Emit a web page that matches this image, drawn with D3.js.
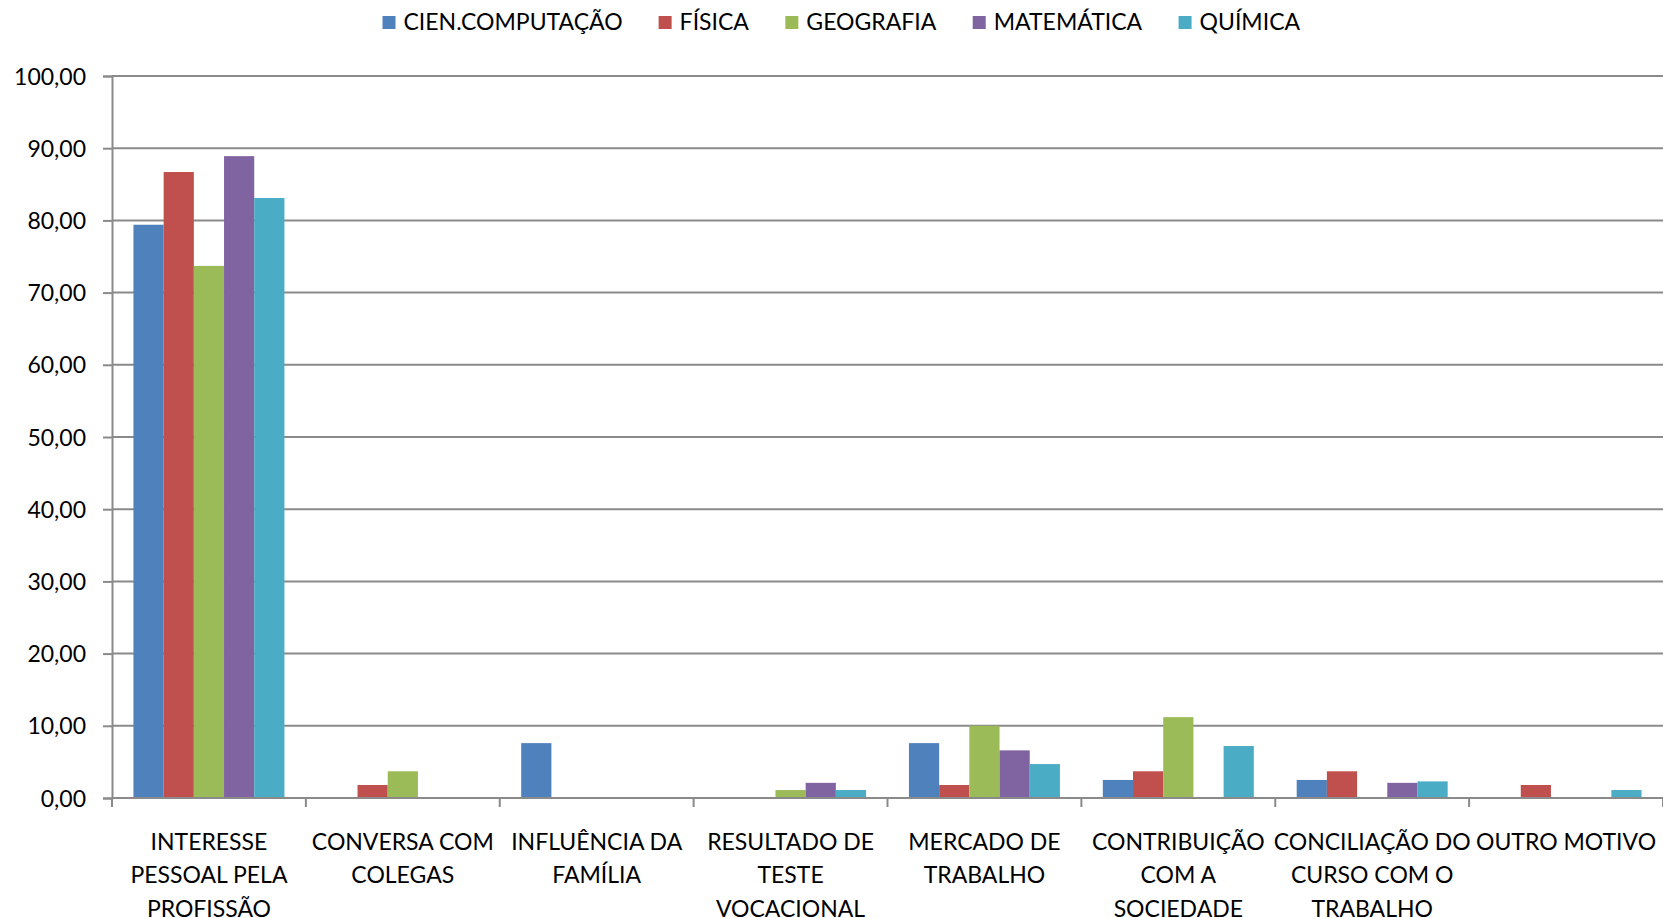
<!DOCTYPE html>
<html>
<head>
<meta charset="utf-8">
<script src="https://cdn.jsdelivr.net/npm/d3@7"></script>
<style>
  body { margin: 0; background: #fff; }
  text { font-family: Lato, "Open Sans", sans-serif; fill: #000; }
</style>
</head>
<body>
<div id="chart"></div>
<script>
// categories (line breaks as in the original labels)
var categories = [
  "INTERESSE\nPESSOAL PELA\nPROFISSÃO",
  "CONVERSA COM\nCOLEGAS",
  "INFLUÊNCIA DA\nFAMÍLIA",
  "RESULTADO DE\nTESTE\nVOCACIONAL",
  "MERCADO DE\nTRABALHO",
  "CONTRIBUIÇÃO\nCOM A\nSOCIEDADE",
  "CONCILIAÇÃO DO\nCURSO COM O\nTRABALHO",
  "OUTRO MOTIVO"
];

var seriesNames = ["CIEN.COMPUTAÇÃO", "FÍSICA", "GEOGRAFIA", "MATEMÁTICA", "QUÍMICA"];
var seriesColors = ["#4F81BD", "#C0504D", "#9BBB59", "#8064A2", "#4BACC6"];

// values per series, in category order
var cienComputacao = [79.4, 0, 7.6, 0, 7.6, 2.5, 2.5, 0];
var fisica         = [86.7, 1.8, 0, 0, 1.8, 3.7, 3.7, 1.8];
var geografia      = [73.7, 3.7, 0, 1.1, 10.0, 11.2, 0, 0];
var matematica     = [88.9, 0, 0, 2.1, 6.6, 0, 2.1, 0];
var quimica        = [83.1, 0, 0, 1.1, 4.7, 7.2, 2.3, 1.1];

var yTicks = [0, 10, 20, 30, 40, 50, 60, 70, 80, 90, 100];

var seriesValues = [cienComputacao, fisica, geografia, matematica, quimica];

var W = 1663, H = 918;
var margin = {top: 76, right: 0, bottom: 120, left: 112};
var width = W - margin.left - margin.right,
    height = H - margin.top - margin.bottom;

var svg = d3.select("#chart").append("svg")
    .attr("width", W)
    .attr("height", H);

var g = svg.append("g")
    .attr("transform", "translate(" + margin.left + "," + margin.top + ")");

var x0 = d3.scaleBand()
    .domain(categories)
    .range([0, width])
    .padding(0);

var x1 = d3.scaleBand()
    .domain(seriesNames)
    .range([0, x0.bandwidth()])
    .paddingInner(0)
    .paddingOuter(0.71);

var y = d3.scaleLinear()
    .domain([0, 100])
    .range([height, 0]);

var fmt = function(d) { return d3.format(".2f")(d).replace(".", ","); };

// gridlines
g.append("g")
    .selectAll("line")
    .data(yTicks)
    .enter().append("line")
    .attr("x1", 0)
    .attr("x2", width)
    .attr("y1", function(d) { return y(d); })
    .attr("y2", function(d) { return y(d); })
    .attr("stroke", "#8a8a8a")
    .attr("stroke-width", 2);

// y axis
var yAxis = g.append("g")
    .call(d3.axisLeft(y).tickValues(yTicks).tickFormat(fmt).tickSize(9).tickPadding(17));
yAxis.select(".domain").attr("stroke", "#8a8a8a").attr("stroke-width", 2);
yAxis.selectAll(".tick line").attr("stroke", "#8a8a8a").attr("stroke-width", 2);
yAxis.selectAll("text")
    .style("font-size", "23px")
    .attr("dy", "0.35em");

// bars
var rows = [];
categories.forEach(function(c, i) {
  seriesNames.forEach(function(s, j) {
    rows.push({cat: c, series: s, idx: j, value: seriesValues[j][i]});
  });
});

g.append("g")
    .selectAll("rect")
    .data(rows.filter(function(d) { return d.value > 0; }))
    .enter().append("rect")
    .attr("x", function(d) { return x0(d.cat) + x1(d.series); })
    .attr("y", function(d) { return y(d.value); })
    .attr("width", x1.bandwidth())
    .attr("height", function(d) { return y(0) - y(d.value); })
    .attr("fill", function(d) { return seriesColors[d.idx]; });

// x axis line + boundary ticks
g.append("line")
    .attr("x1", 0).attr("x2", width)
    .attr("y1", height).attr("y2", height)
    .attr("stroke", "#8a8a8a").attr("stroke-width", 2);

var bounds = categories.map(function(c) { return x0(c); }).concat([width]);
g.append("g")
    .selectAll("line")
    .data(bounds)
    .enter().append("line")
    .attr("x1", function(d) { return d; })
    .attr("x2", function(d) { return d; })
    .attr("y1", height)
    .attr("y2", height + 9)
    .attr("stroke", "#8a8a8a")
    .attr("stroke-width", 2);

// category labels
var xAxis = g.append("g")
    .attr("transform", "translate(0," + height + ")")
    .call(d3.axisBottom(x0).tickSize(0).tickFormat(""));
xAxis.select(".domain").remove();

xAxis.selectAll(".tick").append("text")
    .attr("text-anchor", "middle")
    .style("font-size", "23px")
    .each(function(d) {
      var t = d3.select(this);
      d.split("\n").forEach(function(line, k) {
        t.append("tspan")
            .attr("x", 0)
            .attr("y", 51.5 + k * 33.5)
            .text(line);
      });
    });

// legend
var legend = svg.append("g");
var item = legend.selectAll("g")
    .data(seriesNames)
    .enter().append("g");

item.append("rect")
    .attr("width", 13)
    .attr("height", 13)
    .attr("y", -6)
    .attr("fill", function(d, i) { return seriesColors[i]; });

item.append("text")
    .attr("x", 21)
    .attr("dy", "0.35em")
    .style("font-size", "23px")
    .text(function(d) { return d; });

var offset = 0;
item.each(function() {
  var w = this.getBBox().width;
  d3.select(this).attr("transform", "translate(" + offset + ",0)");
  offset += w + 36;
});
offset -= 36;
legend.attr("transform", "translate(" + ((W - offset) / 2 + 10) + ",22)");
</script>
</body>
</html>
